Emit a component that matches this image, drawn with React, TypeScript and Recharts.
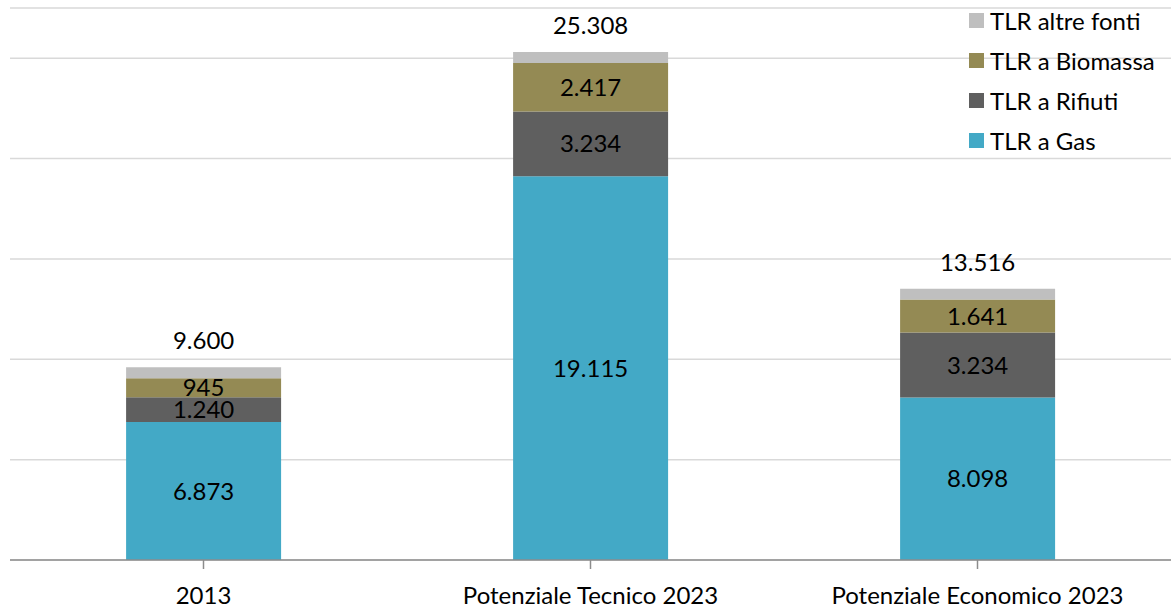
import { BarChart, Bar, XAxis, YAxis, CartesianGrid, LabelList } from "recharts";

const categories = ["2013", "Potenziale Tecnico 2023", "Potenziale Economico 2023"];
const gas = [6873, 19115, 8098];
const rifiuti = [1240, 3234, 3234];
const biomassa = [945, 2417, 1641];
const altre = [542, 542, 543];
const totals = [9600, 25308, 13516];
const yTicks = [0, 5000, 10000, 15000, 20000, 25000];

const series = [
  { key: "gas", name: "TLR a Gas", color: "#43a9c6", label: true },
  { key: "rifiuti", name: "TLR a Rifiuti", color: "#5f5f5f", label: true },
  { key: "biomassa", name: "TLR a Biomassa", color: "#948a54", label: true },
  { key: "altre", name: "TLR altre fonti", color: "#bfbfbf", label: false },
];

const data = categories.map((name, i) => ({
  name,
  gas: gas[i],
  rifiuti: rifiuti[i],
  biomassa: biomassa[i],
  altre: altre[i],
  total: totals[i],
}));

const fmt = (v: any) => String(v).replace(/\B(?=(\d{3})+(?!\d))/g, ".");

const font = "Lato, 'Open Sans', sans-serif";
const fs = 24;

function LegendBox() {
  const items = [...series].reverse();
  return (
    <div style={{ position: "absolute", left: 969, top: 0, fontFamily: font, fontSize: fs, color: "#000" }}>
      {items.map((it) => (
        <div key={it.key} style={{ display: "flex", alignItems: "center", height: 40 }}>
          <div style={{ width: 15, height: 15, background: it.color, marginRight: 6 }} />
          <span>{it.name}</span>
        </div>
      ))}
    </div>
  );
}

export default function App() {
  return (
    <div style={{ position: "absolute", left: 0, top: 0, width: 1173, height: 608, background: "#fff" }}>
      <BarChart
        width={1173}
        height={608}
        data={data}
        margin={{ top: 8, right: 2, left: 10, bottom: 18 }}
        barCategoryGap="30%"
      >
        <CartesianGrid vertical={false} stroke="#d9d9d9" strokeWidth={1.5} />
        <YAxis hide domain={[0, 27500]} ticks={yTicks} />
        <XAxis
          dataKey="name"
          stroke="#8c8c8c"
          strokeWidth={1.5}
          tickSize={9}
          tickMargin={18}
          tick={{ fill: "#000", fontSize: fs, fontFamily: font }}
        />
        {series.map((s) => (
          <Bar key={s.key} dataKey={s.key} name={s.name} stackId="a" fill={s.color} isAnimationActive={false}>
            {s.label && (
              <LabelList
                dataKey={s.key}
                position="center"
                formatter={fmt}
                style={{ fill: "#000", fontSize: fs, fontFamily: font }}
              />
            )}
            {s.key === "altre" && (
              <LabelList
                dataKey="total"
                position="top"
                offset={18}
                formatter={fmt}
                style={{ fill: "#000", fontSize: fs, fontFamily: font }}
              />
            )}
          </Bar>
        ))}
      </BarChart>
      <LegendBox />
    </div>
  );
}
